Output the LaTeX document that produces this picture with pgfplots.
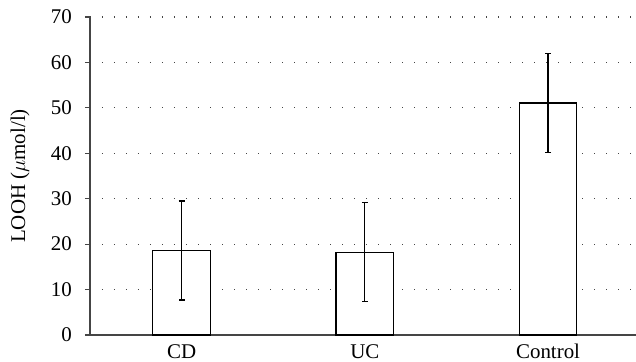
\documentclass[border=0pt]{standalone}
\usepackage{pgfplots}
\pgfplotsset{compat=1.18}
\usepackage{fontspec}
\setmainfont{Liberation Serif}
\definecolor{axgray}{HTML}{454545}
\begin{document}
\fontsize{21}{24}\selectfont
\begin{tikzpicture}
\useasboundingbox (-90bp,-27bp) rectangle (546bp,335bp);
\begin{axis}[
  scale only axis,
  width=546bp, height=318bp,
  xmin=-0.5, xmax=2.48,
  ymin=0, ymax=70,
  ytick={0,10,...,70},
  xtick={0,1,2},
  xticklabels={CD,UC,Control},
  axis x line*=bottom,
  axis y line*=left,
  axis line style={axgray, line width=1.4bp},
  x axis line style={-},
  y axis line style={-},
  xtick style={draw=none},
  ytick style={axgray, line width=1.1bp},
  tick align=outside,
  major tick length=5bp,
  ymajorgrids,
  grid style={axgray, line width=1.1bp, dash pattern=on 1.1bp off 10.9bp},
  /pgf/number format/assume math mode=true,
  tick label style={font=\fontsize{21}{24}\selectfont},
  yticklabel style={xshift=-6bp},
  xticklabel style={anchor=base, yshift=-18.5bp},
  ylabel={LOOH ($\mu$mol/l)},
  ylabel style={font=\fontsize{21}{24}\selectfont, at={(axis description cs:-0.128,0.5)}, anchor=center},
  ybar,
  bar width=0.314,
]
\addplot[fill=white, draw=black, line width=1.3bp,
  error bars/.cd, y dir=both, y explicit,
  error bar style={black, line width=1.2bp},
  error mark options={rotate=90, mark size=3bp, line width=1.2bp, black}]
  coordinates {
    (0,18.6) +- (0,10.9)
    (1,18.2) +- (0,10.9)
    (2,51.1) +- (0,10.9)
  };
\end{axis}
\end{tikzpicture}
\end{document}
